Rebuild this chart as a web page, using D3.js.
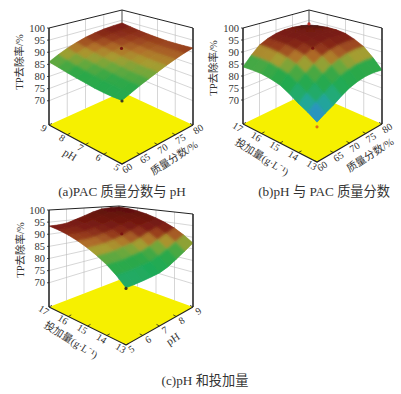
<!DOCTYPE html>
<html>
<head>
<meta charset="utf-8">
<script src="https://cdn.jsdelivr.net/npm/d3@7"></script>
<style>
html, body { margin: 0; background: #fff; }
svg { display: block; }
text { font-family: "Liberation Serif", "Noto Sans CJK SC", serif; fill: #333; }
</style>
</head>
<body>
<svg id="chart" width="401" height="394"></svg>
<script>
const zTicks = [70, 75, 80, 85, 90, 95, 100];
const pacTicks = [60, 65, 70, 75, 80];
const phTicks = [5, 6, 7, 8, 9];
const doseTicks = [13, 14, 15, 16, 17];

// TP removal, rows run along the left axis, columns along the right axis
const surfaceA = [
    [82.7, 84, 85.3, 86.5, 87.7, 88.9, 90, 91, 91.8],
    [82.6, 84, 85.4, 86.6, 87.8, 88.9, 90, 90.9, 91.6],
    [82.7, 84.2, 85.6, 86.8, 88, 89.1, 90, 90.9, 91.5],
    [83, 84.5, 86, 87.2, 88.4, 89.4, 90.2, 90.9, 91.5],
    [83.5, 85, 86.5, 87.8, 88.8, 89.8, 90.6, 91.2, 91.7],
    [84, 85.6, 87.1, 88.3, 89.4, 90.4, 91.1, 91.6, 92],
    [84.6, 86.2, 87.7, 89, 90.1, 91, 91.6, 92, 92.4],
    [85.3, 87, 88.5, 89.8, 90.9, 91.8, 92.4, 92.7, 93],
    [86, 87.8, 89.4, 90.7, 91.8, 92.6, 93.2, 93.5, 93.7]
];
const surfaceB = [
    [74.5, 76.2, 77.7, 79.7, 81.4, 82.4, 83, 83, 82.5],
    [76.6, 78.8, 80.7, 82.9, 84.8, 85.9, 86.7, 86.8, 86.5],
    [78.4, 81, 83.4, 85.7, 87.7, 89, 89.9, 90.2, 90],
    [80.6, 83.5, 86, 88.2, 90.1, 91.3, 92, 92.2, 92],
    [82.5, 85.6, 88.2, 90.4, 92.1, 93.2, 93.8, 93.8, 93.5],
    [83.4, 86.6, 89.4, 91.5, 93.1, 94, 94.5, 94.4, 94],
    [84, 87.4, 90.3, 92.3, 93.7, 94.5, 94.8, 94.6, 94],
    [84, 87.6, 90.7, 92.5, 93.7, 94.4, 94.5, 94.2, 93.5],
    [83.8, 87.5, 90.7, 92.4, 93.5, 94, 94, 93.5, 92.7]
];
const surfaceC = [
    [79.7, 79.7, 79.8, 80, 80.3, 81.4, 83.2, 85.2, 87.5],
    [82.8, 82.8, 82.9, 83.2, 83.6, 84.8, 86.5, 88.3, 90.3],
    [85.4, 85.4, 85.5, 86, 86.5, 87.7, 89.4, 91, 92.7],
    [87.5, 87.5, 87.7, 88.3, 88.9, 90.2, 91.8, 93.2, 94.6],
    [89.3, 89.3, 89.5, 90.2, 91, 92.3, 93.8, 95, 96.2],
    [90.8, 90.8, 91.1, 91.9, 92.8, 94.2, 95.6, 96.6, 97.5],
    [92, 92, 92.3, 93.3, 94.3, 95.7, 97.1, 97.9, 98.5],
    [92.9, 92.9, 93.3, 94.3, 95.5, 97, 98.2, 98.8, 99.2],
    [93.4, 93.4, 93.8, 95, 96.3, 97.8, 99, 99.4, 99.5]
];

// design points: [right axis value, left axis value, TP removal, colour]
const pointsA = [[70, 7, 92.2, '#7a1410'], [60, 5, 82.5, '#3a3a20']];
const pointsB = [[70, 15, 92.2, '#7a1410'], [60, 13, 72.8, '#e0701a'], [80, 17, 93.2, '#c03028']];
const pointsC = [[7, 15, 92, '#7a1410'], [5, 13, 79.5, '#3a3a20']];

const colorZ = d3.scaleLinear()
    .domain([73, 76, 79, 82, 85, 87, 88.5, 90, 91.5, 93, 96, 100])
    .range(['#2a50cc', '#2a90c8', '#22aa90', '#1faa55', '#2ea848', '#6ea83c', '#a89c30', '#b0702a', '#963c1e', '#7e2015', '#6e1610', '#5a0d0a'])
    .clamp(true);
const shade = d3.scaleLinear().domain([0.05, 0.5]).range([0.15, 1]).clamp(true);

const svg = d3.select('#chart');
const defs = svg.append('defs');
defs.append('filter').attr('id', 'soft').append('feGaussianBlur').attr('stdDeviation', 1.7);
defs.append('filter').attr('id', 'edge').append('feGaussianBlur').attr('stdDeviation', 0.3);

class Surface3D {
    constructor(_config, _data, _points) {
        this.config = _config;
        this.data = _data;
        this.points = _points;
        this.initApp();
    }
    initApp() {
        let app = this;
        const c = app.config;
        app.uScale = d3.scaleLinear().domain(d3.extent(c.rightTicks)).range([0, 1]);
        app.vScale = d3.scaleLinear().domain(d3.extent(c.leftTicks)).range([0, 1]);
        app.zScale = d3.scaleLinear().domain([60, 100]).range([0, 1]);
        // box heights on screen, the near corner follows from the other three
        app.heights = {
            left: c.left[1] - c.topLeft,
            right: c.right[1] - c.topRight,
            back: c.back[1] - c.topBack
        };
        app.heights.front = app.heights.left + app.heights.right - app.heights.back;
        app.g = svg.append('g');
        app.renderApp();
    }
    // u, v, z are all 0..1, bilinear over the floor and the box height
    project(u, v, z) {
        const c = this.config, h = this.heights;
        const mix = (f, r, l, b) => (1 - u) * (1 - v) * f + u * (1 - v) * r + (1 - u) * v * l + u * v * b;
        return [
            mix(c.front[0], c.right[0], c.left[0], c.back[0]),
            mix(c.front[1], c.right[1], c.left[1], c.back[1]) - z * mix(h.front, h.right, h.left, h.back)
        ];
    }
    renderApp() {
        let app = this;
        const c = app.config;
        const line = d3.line();
        const U = d => app.uScale(d), V = d => app.vScale(d), Z = d => app.zScale(d);

        // walls
        const walls = app.g.append('g').attr('fill', 'none').attr('stroke', '#bbb').attr('stroke-width', 0.6);
        zTicks.slice(0, -1).forEach(t => {
            walls.append('path').attr('d', line([app.project(0, 1, Z(t)), app.project(1, 1, Z(t)), app.project(1, 0, Z(t))]));
        });
        c.rightTicks.forEach(t => {
            walls.append('path').attr('d', line([app.project(U(t), 1, 0), app.project(U(t), 1, 1)]));
        });
        c.leftTicks.forEach(t => {
            walls.append('path').attr('d', line([app.project(1, V(t), 0), app.project(1, V(t), 1)]));
        });

        // floor
        app.g.append('path')
            .attr('d', line([c.front, c.right, c.back, c.left]) + 'Z')
            .attr('fill', '#f6f000');

        // box outline
        const box = app.g.append('g').attr('fill', 'none').attr('stroke', '#222').attr('stroke-width', 1);
        box.append('path').attr('d', line([c.left, app.project(0, 1, 1), app.project(1, 1, 1), app.project(1, 0, 1), c.right]));
        box.append('path').attr('d', line([app.project(1, 1, 1), app.project(1, 1, 0.75)])).attr('stroke-width', 0.6);

        // surface, far cells first
        const nRows = app.data.length, nCols = app.data[0].length;
        const cellPt = (i, j) => app.project(j / (nCols - 1), i / (nRows - 1), Z(app.data[i][j]));
        const floorPt = (i, j) => app.project(j / (nCols - 1), i / (nRows - 1), 0);
        const cells = [];
        for (let i = nRows - 2; i >= 0; i--) {
            for (let j = nCols - 2; j >= 0; j--) {
                const poly = [cellPt(i, j), cellPt(i, j + 1), cellPt(i + 1, j + 1), cellPt(i + 1, j)];
                const flat = [floorPt(i, j), floorPt(i, j + 1), floorPt(i + 1, j + 1), floorPt(i + 1, j)];
                const mean = (app.data[i][j] + app.data[i][j + 1] + app.data[i + 1][j] + app.data[i + 1][j + 1]) / 4;
                const rgb = d3.rgb(colorZ(mean));
                const s = shade(d3.polygonArea(poly) / d3.polygonArea(flat));
                cells.push({ poly, color: d3.rgb(rgb.r * s, rgb.g * s, rgb.b * s).formatHex() });
            }
        }
        const drawCells = parent => parent.selectAll('path').data(cells).join('path')
            .attr('d', d => line(d.poly) + 'Z')
            .attr('fill', d => d.color)
            .attr('stroke', d => d.color)
            .attr('stroke-width', 0.6);

        // crisp copy for the outline, blurred copy clipped to it hides the cell steps
        drawCells(app.g.append('g').attr('filter', 'url(#edge)'));
        const clipId = 'clip-' + c.captionText.charAt(1);
        defs.append('clipPath').attr('id', clipId)
            .selectAll('path').data(cells).join('path').attr('d', d => line(d.poly) + 'Z');
        drawCells(app.g.append('g').attr('clip-path', `url(#${ clipId })`).append('g').attr('filter', 'url(#soft)'));

        // front floor edges and the two front verticals
        app.g.append('path').attr('d', line([c.left, c.front, c.right]))
            .attr('fill', 'none').attr('stroke', '#222').attr('stroke-width', 1.1);
        app.g.append('path').attr('d', line([c.left, app.project(0, 1, 1)]))
            .attr('fill', 'none').attr('stroke', '#222').attr('stroke-width', 1);
        app.g.append('path').attr('d', line([c.right, app.project(1, 0, 1)]))
            .attr('fill', 'none').attr('stroke', '#222').attr('stroke-width', 1);

        // design points
        app.g.selectAll('.pt').data(app.points).join('circle')
            .attr('class', 'pt')
            .attr('transform', d => `translate(${ app.project(U(d[0]), V(d[1]), Z(d[2])) })`)
            .attr('r', 1.6)
            .attr('fill', d => d[3]);

        // z axis
        zTicks.forEach(t => {
            const p = app.project(0, 1, Z(t));
            app.g.append('text').attr('x', p[0] - 4).attr('y', p[1] + 3.5)
                .attr('text-anchor', 'end').style('font-size', '10.5px').text(t);
            app.g.append('path').attr('d', line([p, [p[0] - 2, p[1]]])).attr('stroke', '#222').attr('stroke-width', 0.8);
        });

        // floor axes
        c.leftTicks.forEach(t => {
            const p = app.project(0, V(t), 0);
            app.g.append('path').attr('d', line([p, [p[0] + 3, p[1] - 1.6]])).attr('stroke', '#222').attr('stroke-width', 0.8);
            app.g.append('text').attr('transform', `translate(${ p[0] - 7 },${ p[1] + 6 }) rotate(32)`)
                .attr('text-anchor', 'middle').style('font-size', '10px').text(t);
        });
        c.rightTicks.forEach(t => {
            const p = app.project(U(t), 0, 0);
            app.g.append('path').attr('d', line([p, [p[0] - 3, p[1] - 1.6]])).attr('stroke', '#222').attr('stroke-width', 0.8);
            app.g.append('text').attr('transform', `translate(${ p[0] + 7 },${ p[1] + 7 }) rotate(-32)`)
                .attr('text-anchor', 'middle').style('font-size', '10px').text(t);
        });

        // titles
        const title = (pos, angle, size, txt) => {
            app.g.append('text').attr('transform', `translate(${ pos }) rotate(${ angle })`)
                .attr('text-anchor', 'middle').style('font-size', size + 'px').text(txt);
        };
        title(c.zTitle, -90, 10.5, 'TP去除率/%');
        title(c.leftTitle, 32, c.leftName === 'pH' ? 11 : 10.5, c.leftName);
        title(c.rightTitle, -33, c.rightName === 'pH' ? 11 : 10.5, c.rightName);
        title(c.caption, 0, 13.2, c.captionText);
    }
}

new Surface3D({
    front: [122, 164], right: [193, 125], left: [49, 125], back: [122, 92],
    topLeft: 28, topRight: 28, topBack: 10,
    rightTicks: pacTicks, leftTicks: phTicks,
    rightName: '质量分数/%', leftName: 'pH',
    zTitle: [23, 62], leftTitle: [68, 158], rightTitle: [176, 161],
    caption: [122, 196], captionText: '(a)PAC 质量分数与 pH'
}, surfaceA, pointsA);

new Surface3D({
    front: [317, 162], right: [382, 124], left: [243, 124], back: [309, 92],
    topLeft: 28, topRight: 28, topBack: 10,
    rightTicks: pacTicks, leftTicks: doseTicks,
    rightName: '质量分数/%', leftName: '投加量(g·L⁻¹)',
    zTitle: [217, 68], leftTitle: [260, 160], rightTitle: [372, 158],
    caption: [324, 196], captionText: '(b)pH 与 PAC 质量分数'
}, surfaceB, pointsB);

new Surface3D({
    front: [126, 345], right: [193, 307], left: [49, 307], back: [119, 280],
    topLeft: 210, topRight: 214, topBack: 206,
    rightTicks: phTicks, leftTicks: doseTicks,
    rightName: 'pH', leftName: '投加量(g·L⁻¹)',
    zTitle: [24, 250], leftTitle: [69, 343], rightTitle: [175, 342],
    caption: [205, 385], captionText: '(c)pH 和投加量'
}, surfaceC, pointsC);
</script>
</body>
</html>
